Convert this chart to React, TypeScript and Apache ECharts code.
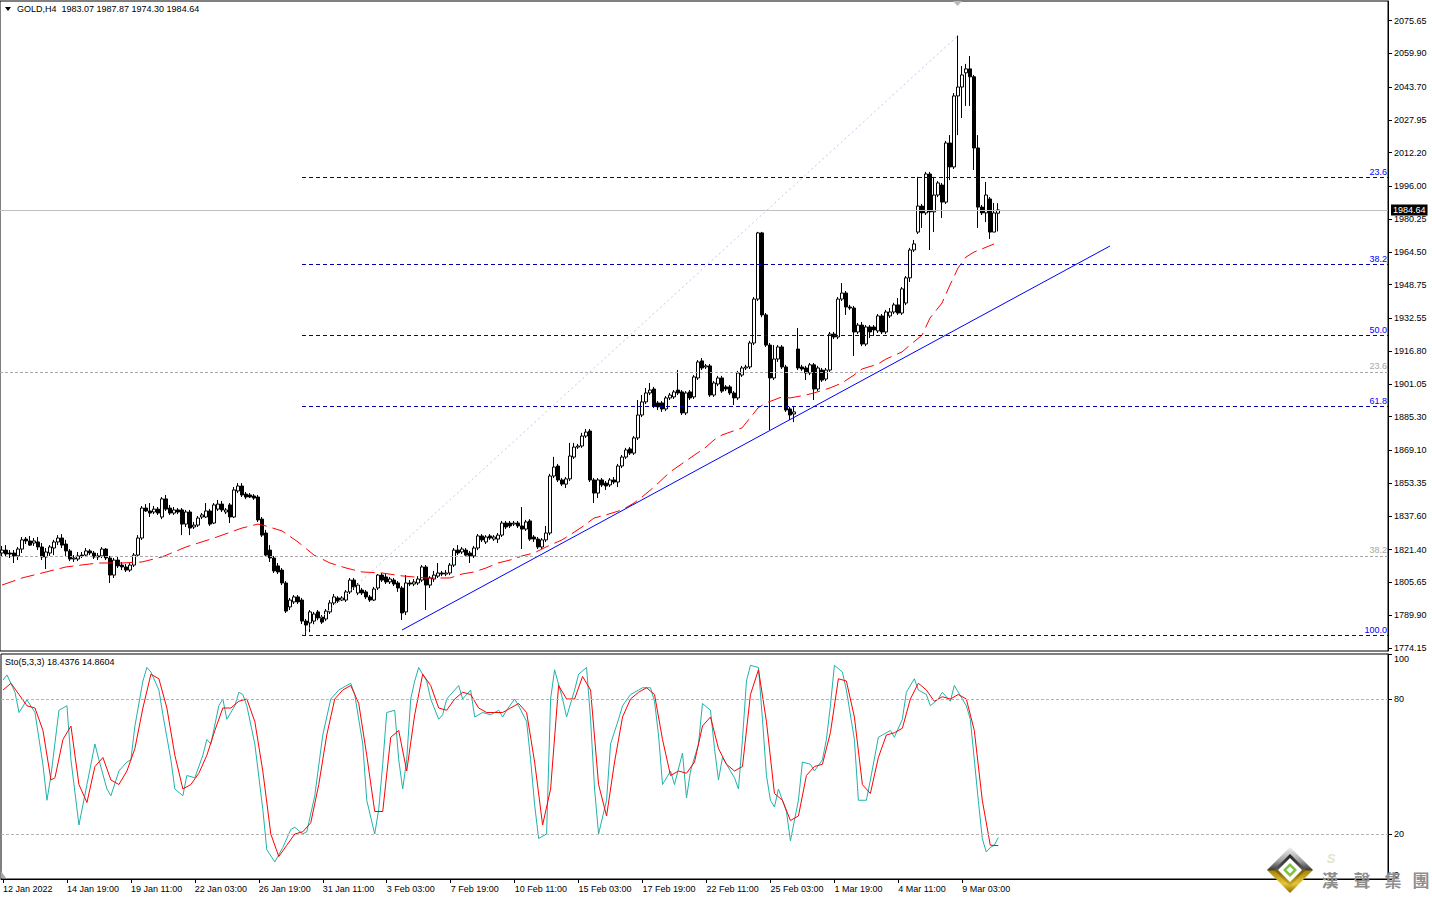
import React, { useEffect, useRef } from "react";
import * as echarts from "echarts";

const FONT = "Tahoma, 'Liberation Sans', Arial, sans-serif";

const header = "GOLD,H4  1983.07 1987.87 1974.30 1984.64";
const stoLabel = "Sto(5,3,3) 18.4376 14.8604";

const tickLabels = [
  "12 Jan 2022", "14 Jan 19:00", "19 Jan 11:00", "22 Jan 03:00", "26 Jan 19:00",
  "31 Jan 11:00", "3 Feb 03:00", "7 Feb 19:00", "10 Feb 11:00", "15 Feb 03:00",
  "17 Feb 19:00", "22 Feb 11:00", "25 Feb 03:00", "1 Mar 19:00", "4 Mar 11:00", "9 Mar 03:00",
];
const barsPerTick = 16;
const slotCount = 347;

const priceTicks = [
  2075.65, 2059.9, 2043.7, 2027.95, 2012.2, 1996.0, 1980.25, 1964.5, 1948.75, 1932.55,
  1916.8, 1901.05, 1885.3, 1869.1, 1853.35, 1837.6, 1821.4, 1805.65, 1789.9, 1774.15,
];
const priceMin = 1772.72;
const priceMax = 2085.02;
const lastPrice = 1984.64;

const stochTicks = [0, 20, 80, 100];
const stochLevels = [80, 20];

// [open, close, low, high]
const candles = [
  [1819.8,1821.2,1817.9,1823.2],[1821.2,1819.3,1817.9,1823.6],[1819.8,1819.3,1817.4,1821.2],[1819.8,1818.4,1815.0,1821.2],
  [1818.4,1821.7,1816.4,1822.7],[1821.7,1826.1,1819.8,1827.5],[1826.5,1825.6,1824.1,1827.5],[1825.6,1823.6,1823.2,1828.0],
  [1824.6,1825.6,1823.2,1827.0],[1825.1,1822.7,1821.2,1827.5],[1822.7,1817.9,1816.4,1824.6],[1817.9,1820.3,1812.1,1822.2],
  [1819.8,1822.7,1818.4,1823.6],[1822.2,1825.1,1818.8,1826.1],[1825.1,1827.0,1823.6,1828.4],[1827.0,1823.6,1822.2,1828.9],
  [1824.1,1820.8,1818.4,1826.1],[1820.8,1816.9,1815.9,1821.7],[1816.9,1817.4,1815.5,1818.8],[1816.9,1818.4,1815.9,1820.3],
  [1818.8,1818.4,1817.4,1820.3],[1818.8,1820.8,1817.9,1822.2],[1820.8,1819.8,1818.8,1821.7],[1819.8,1817.9,1816.9,1820.8],
  [1818.4,1817.9,1816.4,1819.8],[1818.4,1821.7,1817.4,1822.7],[1821.7,1817.4,1816.4,1822.2],[1817.4,1809.2,1805.4,1818.4],
  [1809.2,1816.4,1807.8,1817.4],[1816.4,1813.6,1812.6,1817.9],[1814.0,1813.1,1811.6,1815.5],[1813.1,1811.6,1810.7,1814.5],
  [1811.6,1814.0,1810.7,1815.0],[1814.0,1818.8,1813.1,1819.8],[1818.8,1827.0,1817.9,1828.4],[1827.0,1841.4,1826.1,1842.4],
  [1841.4,1840.0,1839.5,1843.3],[1840.0,1839.0,1837.1,1843.8],[1839.5,1840.9,1838.5,1842.4],[1840.9,1839.0,1838.1,1841.9],
  [1837.1,1845.8,1836.1,1846.7],[1845.8,1840.9,1840.0,1847.7],[1841.4,1839.0,1838.1,1842.9],[1839.0,1840.5,1838.1,1841.9],
  [1840.5,1839.5,1838.5,1841.4],[1840.5,1833.7,1828.4,1841.4],[1833.7,1839.5,1832.3,1840.5],[1839.5,1831.8,1828.4,1840.5],
  [1832.3,1833.2,1831.3,1834.7],[1833.2,1836.6,1832.3,1837.6],[1837.1,1838.1,1836.1,1839.0],[1837.1,1840.0,1836.6,1843.8],
  [1840.0,1833.7,1832.8,1841.0],[1834.2,1842.9,1833.7,1843.8],[1840.9,1843.3,1840.0,1845.3],[1843.3,1840.5,1839.5,1844.8],
  [1839.5,1840.5,1838.5,1841.4],[1842.9,1837.1,1834.2,1843.8],[1837.1,1850.1,1836.6,1851.5],[1849.6,1852.0,1848.6,1853.4],
  [1852.0,1847.7,1846.7,1853.4],[1848.1,1846.7,1845.7,1849.1],[1847.7,1846.7,1846.2,1848.6],[1847.2,1846.2,1845.3,1848.1],
  [1846.7,1835.7,1834.7,1847.7],[1836.1,1828.4,1827.5,1837.1],[1829.4,1818.8,1817.9,1830.9],[1821.2,1817.4,1815.5,1823.6],
  [1817.4,1811.2,1810.2,1818.4],[1813.6,1810.7,1809.7,1815.0],[1811.6,1805.4,1804.4,1812.6],[1805.4,1791.9,1791.0,1806.3],
  [1793.9,1797.2,1792.4,1798.2],[1796.3,1798.7,1795.3,1799.6],[1798.7,1796.3,1795.3,1799.6],[1797.2,1787.1,1785.7,1798.2],
  [1787.1,1785.2,1780.4,1788.1],[1786.2,1791.5,1781.8,1792.4],[1787.1,1790.5,1785.7,1791.5],[1791.5,1788.6,1787.6,1792.4],
  [1789.0,1786.6,1785.7,1790.0],[1788.1,1791.9,1787.1,1792.9],[1791.5,1795.8,1790.5,1797.2],[1795.8,1798.7,1794.8,1800.1],
  [1798.2,1796.7,1795.8,1799.1],[1797.2,1798.2,1796.7,1799.1],[1797.2,1801.1,1796.3,1802.0],[1801.1,1806.8,1800.1,1807.8],
  [1806.8,1803.5,1802.0,1807.8],[1800.6,1804.4,1799.6,1805.4],[1802.0,1800.6,1799.6,1803.0],[1801.1,1798.7,1797.7,1802.0],
  [1798.7,1797.2,1796.3,1799.6],[1797.2,1802.5,1796.7,1803.5],[1803.0,1809.2,1802.0,1809.7],[1809.2,1806.8,1805.9,1810.2],
  [1808.3,1805.9,1804.9,1809.7],[1805.9,1807.3,1804.9,1808.3],[1806.8,1804.9,1803.9,1807.8],[1805.4,1803.0,1801.1,1806.3],
  [1803.0,1791.0,1787.6,1803.9],[1791.5,1805.4,1790.0,1809.2],[1805.4,1804.9,1803.9,1806.8],[1804.9,1805.9,1803.9,1807.3],
  [1805.4,1807.3,1804.4,1808.7],[1806.8,1813.1,1805.9,1814.0],[1813.1,1804.4,1792.4,1814.0],[1804.4,1807.8,1803.0,1808.7],
  [1807.3,1809.2,1805.9,1811.2],[1808.7,1810.2,1807.8,1815.0],[1810.2,1809.7,1808.7,1811.2],[1809.7,1810.2,1808.7,1811.6],
  [1810.2,1814.0,1809.2,1815.0],[1814.0,1821.2,1813.1,1822.2],[1821.2,1819.8,1818.8,1823.6],[1820.3,1821.7,1819.3,1822.7],
  [1821.2,1818.8,1817.9,1822.2],[1819.8,1818.4,1815.0,1820.8],[1818.4,1822.2,1817.4,1823.2],[1822.2,1828.0,1821.2,1828.9],
  [1828.0,1826.1,1825.1,1828.9],[1825.1,1827.5,1824.1,1828.4],[1828.0,1827.0,1826.1,1828.9],[1826.5,1827.5,1825.6,1828.4],
  [1826.5,1828.4,1824.6,1829.4],[1828.4,1834.2,1827.5,1835.2],[1834.2,1832.3,1831.3,1835.2],[1834.2,1832.8,1831.8,1835.2],
  [1833.7,1834.2,1832.8,1835.2],[1834.2,1832.8,1831.8,1835.2],[1832.8,1831.3,1821.7,1841.9],[1831.3,1834.7,1830.4,1835.7],
  [1835.2,1826.5,1825.6,1836.1],[1827.5,1826.5,1825.1,1828.4],[1826.5,1822.7,1821.7,1827.5],[1822.7,1826.1,1821.7,1827.0],
  [1826.1,1829.4,1825.1,1832.8],[1829.4,1856.8,1828.4,1857.8],[1856.8,1861.1,1855.8,1866.0],[1861.6,1854.9,1853.9,1862.6],
  [1854.9,1852.9,1852.0,1855.8],[1852.9,1855.4,1851.0,1856.3],[1855.4,1866.4,1854.4,1872.7],[1865.9,1870.7,1865.0,1872.7],
  [1870.7,1871.2,1869.8,1872.2],[1871.2,1876.0,1870.3,1877.5],[1876.0,1877.9,1875.1,1879.4],[1878.4,1854.9,1853.9,1879.4],
  [1854.9,1848.6,1843.8,1855.8],[1848.6,1854.9,1846.2,1855.8],[1854.9,1852.5,1851.5,1855.8],[1853.4,1852.0,1850.1,1854.4],
  [1852.5,1854.9,1851.5,1855.8],[1854.9,1853.9,1852.9,1856.3],[1853.9,1861.6,1851.5,1862.6],[1861.6,1865.9,1860.6,1866.9],
  [1865.9,1869.3,1865.0,1870.3],[1869.8,1867.8,1866.9,1870.7],[1867.8,1875.1,1866.9,1876.0],[1875.1,1886.1,1874.1,1893.3],
  [1886.1,1892.4,1885.1,1895.7],[1892.4,1896.7,1891.4,1899.1],[1896.7,1898.1,1895.7,1901.5],[1898.6,1890.4,1889.5,1899.6],
  [1891.9,1890.0,1888.5,1892.8],[1891.9,1889.0,1887.6,1892.8],[1889.0,1894.3,1888.0,1895.2],[1894.3,1895.7,1893.3,1896.7],
  [1894.8,1897.2,1893.8,1898.1],[1898.1,1896.7,1895.7,1907.7],[1897.2,1887.1,1886.1,1898.1],[1887.1,1896.7,1886.1,1897.6],
  [1897.2,1894.3,1893.3,1898.1],[1894.8,1904.4,1893.8,1905.3],[1903.9,1911.6,1902.9,1912.5],[1912.1,1908.7,1907.7,1913.5],
  [1909.2,1909.7,1908.2,1910.6],[1909.7,1895.7,1894.8,1910.6],[1895.7,1901.5,1894.8,1902.4],[1901.0,1903.9,1900.0,1904.9],
  [1903.9,1897.6,1896.7,1904.9],[1899.6,1898.6,1897.6,1900.5],[1899.6,1896.7,1895.7,1900.5],[1896.7,1894.3,1890.9,1897.6],
  [1894.3,1906.3,1893.3,1907.3],[1905.3,1908.7,1904.4,1909.7],[1908.7,1909.2,1907.7,1910.2],[1909.2,1920.7,1908.2,1921.7],
  [1920.7,1941.8,1919.7,1942.8],[1941.8,1973.6,1940.9,1974.1],[1973.6,1934.2,1933.1,1974.1],[1934.2,1919.7,1918.8,1935.1],
  [1919.7,1903.9,1878.9,1920.7],[1903.9,1913.0,1902.9,1919.7],[1913.0,1918.8,1911.6,1919.7],[1918.8,1909.2,1908.2,1919.7],
  [1909.2,1888.5,1887.6,1910.2],[1889.0,1886.1,1883.7,1890.0],[1886.6,1887.6,1882.7,1890.0],[1917.8,1908.7,1907.7,1927.9],
  [1909.2,1908.2,1907.3,1910.2],[1908.7,1906.3,1902.9,1909.7],[1906.3,1910.2,1905.3,1911.1],[1910.2,1898.6,1893.3,1911.1],
  [1898.6,1908.7,1897.6,1909.7],[1907.7,1902.9,1902.0,1908.7],[1903.4,1907.7,1902.4,1908.7],[1907.7,1925.0,1906.8,1926.0],
  [1925.0,1923.6,1922.6,1926.0],[1923.6,1941.8,1922.6,1942.8],[1941.8,1944.7,1940.9,1949.5],[1944.7,1938.0,1934.2,1945.7],
  [1938.0,1937.5,1936.6,1939.0],[1937.5,1926.0,1914.5,1938.5],[1926.0,1929.3,1925.0,1930.3],[1929.3,1920.2,1919.2,1930.8],
  [1920.2,1928.4,1919.2,1929.3],[1928.4,1926.0,1923.1,1929.3],[1928.4,1927.0,1924.1,1929.3],[1926.5,1933.7,1925.5,1934.6],
  [1933.7,1926.0,1925.0,1934.6],[1926.0,1935.6,1925.0,1936.6],[1933.7,1935.6,1932.7,1937.5],[1935.6,1939.0,1934.6,1940.0],
  [1939.0,1935.1,1934.2,1942.3],[1935.1,1946.7,1934.2,1947.6],[1939.9,1952.0,1938.9,1952.9],[1952.0,1965.4,1950.0,1966.4],
  [1965.4,1968.3,1964.4,1970.2],[1974.0,1986.5,1973.1,2000.5],[1986.5,1983.2,1976.0,1987.5],[1983.2,2001.9,1982.2,2002.9],
  [2001.9,1983.7,1965.4,2002.9],[1983.7,1991.8,1974.0,2000.5],[1991.8,1997.6,1990.8,1998.5],[1996.6,1988.4,1980.8,1997.6],
  [1988.4,2016.8,1987.5,2017.8],[2016.8,2005.3,1999.0,2020.6],[2005.3,2039.4,2004.3,2040.8],[2039.4,2043.7,2020.6,2068.4],
  [2043.7,2049.5,2028.8,2053.8],[2050.5,2052.4,2034.6,2054.8],[2052.4,2048.6,2034.6,2058.6],[2048.6,2014.4,2003.8,2049.5],
  [2014.4,1986.0,1976.0,2020.6],[1986.0,1983.2,1982.2,1987.0],[1983.2,1991.8,1978.8,1998.1],[1989.9,1974.0,1970.7,1990.8],
  [1974.0,1983.2,1974.0,1988.0],[1983.07,1984.64,1974.3,1987.87],
];

// moving average readings [bar, price]
const maPoints = [
  [0,1804.4],[5,1807.8],[10,1810.2],[16,1813.1],[24,1815.0],[30,1815.0],[35,1815.5],[40,1817.9],[46,1822.7],
  [53,1827.0],[60,1831.8],[64,1833.7],[66,1832.8],[70,1830.4],[74,1825.1],[78,1818.8],[82,1815.0],[86,1812.6],
  [90,1810.7],[95,1810.2],[100,1808.8],[106,1807.8],[112,1807.8],[115,1809.7],[118,1810.7],[121,1812.6],[124,1815.0],
  [128,1816.9],[130,1818.4],[133,1819.8],[136,1822.7],[140,1826.1],[142,1828.5],[145,1832.3],[148,1836.6],[151,1838.1],
  [155,1840.5],[158,1843.8],[160,1846.7],[163,1851.5],[167,1858.7],[172,1865.4],[176,1870.7],[178,1874.1],[180,1876.5],
  [185,1879.9],[186,1882.3],[189,1889.5],[191,1891.9],[195,1894.8],[197,1894.3],[201,1895.7],[203,1896.7],[207,1899.1],
  [210,1901.5],[213,1905.3],[215,1908.2],[219,1910.6],[221,1913.0],[225,1916.4],[227,1919.7],[230,1924.5],[232,1932.7],
  [235,1939.9],[237,1948.6],[239,1956.7],[241,1962.0],[243,1964.4],[245,1965.9],[248,1968.3],
];

// stochastic %K and %D readings [bar, value]
const kPoints = [
  [0,88.4],[1,90.7],[3,83],[4,74],[6,79.6],[8,74],[10,50.7],[11,35],[12,46],[14,75],[16,77],[17,53],[19,24],[21,42],
  [23,60],[24,53],[26,40],[27,37],[29,48],[31,52],[32,53],[33,68],[35,88],[36,94],[37,92],[39,84],[40,73],[42,53],
  [43,40],[45,37],[46,46],[48,45],[50,55],[51,62],[52,60],[54,77],[55,80],[56,71],[58,77],[59,83],[60,82],[61,77],
  [63,60],[65,31],[66,13],[68,7.6],[70,14],[72,22],[73,23],[75,20],[76,21],[78,37],[80,64],[82,80],[84,84],[85,85],
  [87,87],[88,82],[90,60],[91,35],[93,20],[94,31],[95,51],[96,74],[98,75],[99,53],[100,40],[101,53],[102,80],[103,88],
  [104,94],[106,88],[107,80],[109,71],[110,73],[111,80],[113,84],[114,86],[115,80],[117,84],[118,72],[120,74],[122,73],
  [124,75],[125,72],[126,75],[128,80],[129,77],[131,70],[132,53],[133,33],[134,18],[136,20],[137,80],[138,93],[140,80],
  [141,72],[143,84],[144,91],[146,94],[147,71],[148,40],[149,20],[151,35],[152,60],[154,71],[155,77],[157,82],[159,84],
  [160,85],[162,85],[163,79],[164,64],[165,42],[167,48],[168,42],[170,56],[171,36],[172,48],[174,60],[175,78],[177,75],
  [178,58],[179,44],[180,54],[182,48],[183,45],[184,40],[185,62],[186,88],[187,95],[189,94],[190,71],[191,46],[192,35],
  [193,32],[194,40],[196,30],[197,17],[199,35],[200,52],[202,51],[203,48],[205,53],[206,62],[207,77],[208,95],[210,92],
  [211,84],[213,62],[214,35],[216,35],[217,44],[219,63],[220,64],[222,66],[223,63],[225,71],[226,83],[228,89],[229,84],
  [231,82],[232,77],[234,80],[235,83],[237,79],[238,86],[240,80],[241,77],[242,71],[243,53],[244,35],[245,18],[246,12],
  [247,14],[248,15],[249,18.44],
];
const dPoints = [
  [0,84],[2,87],[4,82],[6,77],[8,76],[10,66],[12,44],[13,45],[15,62],[17,68],[19,42],[21,34],[23,50],[25,54],[27,44],
  [29,42],[31,48],[33,58],[35,76],[37,91],[39,89],[41,76],[43,55],[45,40],[47,42],[49,47],[51,55],[53,66],[55,76],
  [57,76],[59,79],[61,80],[63,70],[65,48],[67,20],[69,10],[71,15],[73,20],[75,21],[77,25],[79,42],[81,64],[83,80],
  [85,84],[87,86],[89,78],[91,55],[93,30],[95,30],[97,63],[99,66],[101,48],[103,73],[105,91],[107,86],[109,76],[111,75],
  [113,80],[115,83],[117,82],[119,76],[121,74],[123,74],[125,74],[127,76],[129,78],[131,74],[133,52],[135,24],[137,40],
  [139,86],[141,80],[143,80],[145,90],[147,84],[149,42],[151,28],[153,52],[155,72],[157,80],[159,83],[161,85],[163,82],
  [165,62],[167,46],[169,48],[171,47],[173,52],[175,68],[177,72],[179,58],[181,51],[183,48],[185,50],[187,82],[189,93],
  [191,70],[193,38],[195,35],[197,26],[199,28],[201,46],[203,50],[205,51],[207,65],[209,89],[211,88],[213,72],[215,42],
  [217,38],[219,54],[221,64],[223,65],[225,67],[227,80],[229,87],[231,84],[233,79],[235,81],[237,80],[239,82],[241,80],
  [243,66],[245,35],[247,15],[249,14.86],
];

// Fibonacci levels (label, price), drawn from the swing-low bar to the right edge
const fibBlue: [string, number][] = [["23.6", 2000.4], ["38.2", 1958.4], ["50.0", 1924.4], ["61.8", 1890.4], ["100.0", 1780.4]];
const fibGray: [string, number][] = [["23.6", 1906.8], ["38.2", 1818.4]];
const fibStartBar = 75;
const fibDiagonal = [[75, 1780.4], [239, 2068.4]];
const trendLine = [[100, 1782.8], [277, 1967.3]];

const watermarkChars = ["漢", "聲", "集", "團"];

function diamond(cx: number, cy: number, r: number) {
  return [[cx, cy - r], [cx + r, cy], [cx, cy + r], [cx - r, cy]];
}

export default function App() {
  const ref = useRef<HTMLDivElement>(null);

  useEffect(() => {
    if (!ref.current) return;
    const chart = echarts.init(ref.current, undefined, { renderer: "svg" });
    const categories = Array.from({ length: slotCount }, (_, i) => String(i));
    const isTick = (i: number) => i % barsPerTick === 0 && i / barsPerTick < tickLabels.length;

    const levelLines: any[] = [
      {
        yAxis: lastPrice,
        lineStyle: { color: "#c0c0c0", type: "solid", width: 1 },
        label: {
          show: true, position: "end", formatter: lastPrice.toFixed(2), color: "#fff",
          backgroundColor: "#000", fontSize: 9, fontFamily: FONT, padding: [1, 2, 1, 2], distance: 3,
        },
      },
      ...fibGray.map(([t, p]) => ({
        yAxis: p,
        lineStyle: { color: "#a8a8a8", type: [3, 2], width: 1 },
        label: { show: true, position: "insideEndTop", formatter: t, color: "#a8a8a8", fontSize: 9, fontFamily: FONT, distance: 1 },
      })),
      ...fibBlue.map(([t, p]) => [
        {
          coord: [fibStartBar, p],
          lineStyle: { color: "#0000a8", type: [4, 3], width: 1 },
          label: { show: true, position: "insideEndTop", formatter: t, color: "#0000ff", fontSize: 9, fontFamily: FONT, distance: 1 },
        },
        { coord: [slotCount - 0.5, p] },
      ]),
      [
        { coord: trendLine[0], lineStyle: { color: "#0000ff", type: "solid", width: 1 }, label: { show: false } },
        { coord: trendLine[1] },
      ],
      [
        { coord: fibDiagonal[0], lineStyle: { color: "#c4c4f0", type: [2, 3], width: 1 }, label: { show: false } },
        { coord: fibDiagonal[1] },
      ],
    ];

    const wmX = [1330, 1362, 1393, 1421];

    const option: any = {
      animation: false,
      backgroundColor: "#fff",
      textStyle: { fontFamily: FONT },
      grid: [
        { left: 0, top: 1, width: 1388, height: 650, show: true, borderColor: "#000", borderWidth: 1, backgroundColor: "#fff" },
        { left: 0, top: 654, width: 1388, height: 225, show: true, borderColor: "#000", borderWidth: 1, backgroundColor: "#fff" },
      ],
      xAxis: [
        { type: "category", gridIndex: 0, data: categories, show: false, axisLine: { onZero: false } },
        {
          type: "category", gridIndex: 1, data: categories,
          axisLine: { show: true, onZero: false, lineStyle: { color: "#000", width: 1 } },
          axisTick: { show: true, interval: (i: number) => isTick(i), alignWithLabel: true, length: 4, lineStyle: { color: "#000" } },
          axisLabel: {
            interval: (i: number) => isTick(i),
            formatter: (_v: string, i: number) => (isTick(i) ? tickLabels[i / barsPerTick] : ""),
            align: "left", color: "#000", fontSize: 9, fontFamily: FONT, margin: 5,
          },
          splitLine: { show: false },
        },
        { type: "value", gridIndex: 0, min: -0.5, max: slotCount - 0.5, show: false, axisLine: { onZero: false } },
        { type: "value", gridIndex: 1, min: -0.5, max: slotCount - 0.5, show: false, axisLine: { onZero: false } },
      ],
      yAxis: [
        {
          type: "value", gridIndex: 0, position: "right", min: priceMin, max: priceMax,
          axisLine: { show: true, onZero: false, lineStyle: { color: "#000" } },
          axisTick: { show: true, length: 4, customValues: priceTicks, lineStyle: { color: "#000" } },
          axisLabel: { customValues: priceTicks, formatter: (v: number) => v.toFixed(2), color: "#000", fontSize: 9, fontFamily: FONT, margin: 6 },
          splitLine: { show: false },
        },
        {
          type: "value", gridIndex: 1, position: "right", min: 0, max: 100,
          axisLine: { show: true, onZero: false, lineStyle: { color: "#000" } },
          axisTick: { show: true, length: 4, customValues: stochTicks, lineStyle: { color: "#000" } },
          axisLabel: {
            customValues: stochTicks, formatter: (v: number) => String(v), color: "#000", fontSize: 9, fontFamily: FONT, margin: 6,
            verticalAlignMaxLabel: "top", verticalAlignMinLabel: "bottom",
          },
          splitLine: { show: false },
        },
      ],
      series: [
        {
          type: "line", name: "levels", xAxisIndex: 2, yAxisIndex: 0, data: [[0, lastPrice]], symbol: "none",
          lineStyle: { opacity: 0 }, silent: true, z: 1,
          markLine: { symbol: ["none", "none"], silent: true, animation: false, data: levelLines },
        },
        {
          type: "candlestick", name: "GOLD", xAxisIndex: 0, yAxisIndex: 0, data: candles, barWidth: 3, silent: true, z: 3,
          itemStyle: { color: "#fff", color0: "#000", borderColor: "#000", borderColor0: "#000", borderWidth: 1 },
        },
        {
          type: "line", name: "MA", xAxisIndex: 2, yAxisIndex: 0, data: maPoints, symbol: "none", silent: true, z: 4,
          lineStyle: { color: "#ff0000", width: 1, type: [14, 6] },
        },
        {
          type: "line", name: "%K", xAxisIndex: 3, yAxisIndex: 1, data: kPoints, symbol: "none", silent: true, z: 3,
          lineStyle: { color: "#20b2aa", width: 1 },
          markLine: {
            symbol: ["none", "none"], silent: true, animation: false, label: { show: false },
            lineStyle: { color: "#b4b4b4", type: [3, 2], width: 1 },
            data: stochLevels.map((v) => ({ yAxis: v })),
          },
        },
        {
          type: "line", name: "%D", xAxisIndex: 3, yAxisIndex: 1, data: dPoints, symbol: "none", silent: true, z: 4,
          lineStyle: { color: "#ff0000", width: 1 },
        },
      ],
      graphic: [
        { type: "polygon", z: 50, shape: { points: [[5, 7], [11, 7], [8, 11]] }, style: { fill: "#000" } },
        {
          type: "text", z: 50, x: 17, y: 9,
          style: { text: header, fill: "#000", font: `9px ${FONT}`, textVerticalAlign: "middle", verticalAlign: "middle" },
        },
        {
          type: "text", z: 50, x: 5, y: 662,
          style: { text: stoLabel, fill: "#000", font: `9px ${FONT}`, textVerticalAlign: "middle", verticalAlign: "middle" },
        },
        { type: "polygon", z: 50, shape: { points: [[953, 1], [962, 1], [957.5, 6]] }, style: { fill: "#b8b8b8" } },
        { type: "polygon", z: 50, shape: { points: [[1, 871], [1, 878], [6, 878]] }, style: { fill: "#a8a8a8" } },
        {
          type: "polygon", z: 60, shape: { points: diamond(1290, 870, 23) },
          style: {
            fill: new echarts.graphic.LinearGradient(0, 0, 0, 1, [
              { offset: 0, color: "#f2f2f2" }, { offset: 0.3, color: "#a0a0a0" }, { offset: 0.5, color: "#3a3a3a" },
              { offset: 0.52, color: "#a8870a" }, { offset: 0.8, color: "#e6c53a" }, { offset: 1, color: "#8a6a00" },
            ]),
          },
        },
        {
          type: "polygon", z: 61, shape: { points: diamond(1290, 870, 16) },
          style: {
            fill: new echarts.graphic.LinearGradient(0, 0, 0, 1, [
              { offset: 0, color: "#1e1e1e" }, { offset: 0.5, color: "#5a5a5a" },
              { offset: 0.52, color: "#7a6000" }, { offset: 1, color: "#d8b428" },
            ]),
          },
        },
        { type: "polygon", z: 62, shape: { points: diamond(1290, 870, 12) }, style: { fill: "#ffffff" } },
        { type: "polygon", z: 63, shape: { points: diamond(1290, 870, 7) }, style: { fill: "#7dc242" } },
        { type: "polygon", z: 64, shape: { points: diamond(1290, 870, 3.5) }, style: { fill: "#ffffff" } },
        {
          type: "text", z: 60, x: 1331, y: 858,
          style: { text: "S", fill: "#dfe6cf", font: `italic bold 13px ${FONT}`, textAlign: "center", align: "center", textVerticalAlign: "middle", verticalAlign: "middle" },
        },
        ...watermarkChars.map((c, i) => ({
          type: "text", z: 60, x: wmX[i], y: 879,
          style: {
            text: c, fill: "#8e8e8e", font: `bold 17px 'Noto Sans CJK TC', 'Noto Sans CJK SC', sans-serif`,
            textAlign: "center", align: "center", textVerticalAlign: "middle", verticalAlign: "middle",
          },
        })),
      ],
    };

    chart.setOption(option);
    return () => chart.dispose();
  }, []);

  return (
    <div
      ref={ref}
      style={{ position: "fixed", left: 0, top: 0, width: 1432, height: 898, background: "#fff" }}
    />
  );
}
